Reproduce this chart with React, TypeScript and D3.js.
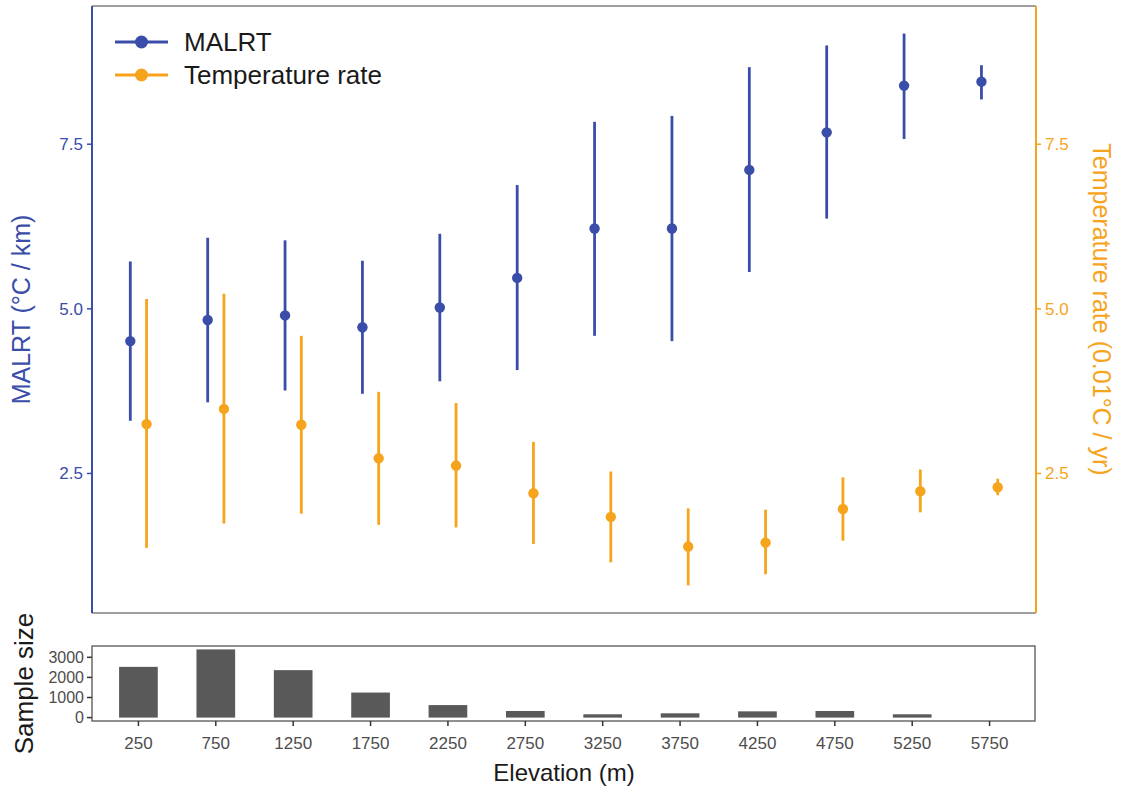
import React from "react";
import * as d3 from "d3";

const elevations = ["250", "750", "1250", "1750", "2250", "2750", "3250", "3750", "4250", "4750", "5250", "5750"];
const malrtMean = [4.51, 4.83, 4.9, 4.72, 5.02, 5.47, 6.22, 6.22, 7.11, 7.68, 8.39, 8.45];
const malrtLow = [3.3, 3.58, 3.76, 3.71, 3.9, 4.07, 4.59, 4.51, 5.56, 6.37, 7.58, 8.18];
const malrtHigh = [5.72, 6.08, 6.04, 5.73, 6.14, 6.88, 7.84, 7.93, 8.67, 9.0, 9.18, 8.7];
const rateMean = [3.25, 3.48, 3.24, 2.73, 2.62, 2.2, 1.84, 1.39, 1.45, 1.96, 2.23, 2.29];
const rateLow = [1.37, 1.74, 1.89, 1.72, 1.68, 1.43, 1.15, 0.8, 0.97, 1.48, 1.91, 2.17];
const rateHigh = [5.15, 5.23, 4.59, 3.74, 3.57, 2.98, 2.53, 1.97, 1.95, 2.44, 2.56, 2.42];
const sampleSize = [2525, 3393, 2361, 1246, 623, 328, 164, 213, 311, 328, 164, 0];
const yTicks = [2.5, 5.0, 7.5];
const nTicks = [0, 1000, 2000, 3000];

const BLUE = "#3A4DA8";
const ORANGE = "#F7A41D";
const FONT = "Liberation Sans, Arial, sans-serif";
const TICKCOL = "#4D4D4D";

export default function App() {
  const L = 92, R = 1036;
  const mT = 6, mB = 613;
  const bT = 646, bB = 721;

  const x = d3.scalePoint<string>().domain(elevations).range([L, R]).padding(0.6);
  const step = x.step();
  const dodge = step * 0.105;

  const allVals = [...malrtLow, ...malrtHigh, ...rateLow, ...rateHigh];
  const lo = d3.min(allVals)!, hi = d3.max(allVals)!;
  const ex = (hi - lo) * 0.05;
  const y = d3.scaleLinear().domain([lo - ex, hi + ex]).range([mB, mT]);

  const nMax = d3.max(sampleSize)!;
  const yn = d3.scaleLinear().domain([-nMax * 0.05, nMax * 1.05]).range([bB, bT]);

  const series = [
    { name: "MALRT", color: BLUE, mean: malrtMean, low: malrtLow, high: malrtHigh, off: -dodge },
    { name: "Temperature rate", color: ORANGE, mean: rateMean, low: rateLow, high: rateHigh, off: dodge },
  ];

  return (
    <svg width={1124} height={792} style={{ position: "absolute", left: 0, top: 0, background: "#fff" }} fontFamily={FONT}>
      <rect x={0} y={0} width={1124} height={792} fill="#fff" />
      {/* main panel border */}
      <line x1={L} x2={R} y1={mT} y2={mT} stroke="#7f7f7f" strokeWidth={1.5} />
      <line x1={L} x2={R} y1={mB} y2={mB} stroke="#7f7f7f" strokeWidth={1.5} />
      <line x1={L} x2={L} y1={mT} y2={mB} stroke={BLUE} strokeWidth={2} />
      <line x1={R} x2={R} y1={mT} y2={mB} stroke={ORANGE} strokeWidth={2} />
      {yTicks.map((t) => (
        <g key={"l" + t}>
          <line x1={L - 5} x2={L} y1={y(t)} y2={y(t)} stroke={BLUE} strokeWidth={1.5} />
          <text x={L - 9} y={y(t)} dy="0.35em" textAnchor="end" fontSize={17} fill={BLUE}>{t.toFixed(1)}</text>
          <line x1={R} x2={R + 5} y1={y(t)} y2={y(t)} stroke={ORANGE} strokeWidth={1.5} />
          <text x={R + 9} y={y(t)} dy="0.35em" textAnchor="start" fontSize={17} fill={ORANGE}>{t.toFixed(1)}</text>
        </g>
      ))}
      {series.map((s) => (
        <g key={s.name}>
          {elevations.map((e, i) => {
            const cx = x(e)! + s.off;
            return (
              <g key={e}>
                <line x1={cx} x2={cx} y1={y(s.low[i])} y2={y(s.high[i])} stroke={s.color} strokeWidth={2.8} />
                <circle cx={cx} cy={y(s.mean[i])} r={5.2} fill={s.color} />
              </g>
            );
          })}
        </g>
      ))}
      {/* legend */}
      {series.map((s, i) => (
        <g key={"lg" + s.name} transform={`translate(0, ${42 + i * 33})`}>
          <line x1={115} x2={168} y1={0} y2={0} stroke={s.color} strokeWidth={3} />
          <circle cx={141.5} cy={0} r={6.5} fill={s.color} />
          <text x={184} y={0} dy="0.36em" fontSize={26} fill="#1a1a1a">{s.name}</text>
        </g>
      ))}
      {/* axis titles */}
      <text transform={`translate(30, ${(mT + mB) / 2}) rotate(-90)`} textAnchor="middle" fontSize={25} fill={BLUE}>MALRT (°C / km)</text>
      <text transform={`translate(1093, ${(mT + mB) / 2}) rotate(90)`} textAnchor="middle" fontSize={25} fill={ORANGE}>Temperature rate (0.01°C / yr)</text>

      {/* bottom panel */}
      <rect x={L} y={bT} width={R - 1 - L} height={bB - bT} fill="none" stroke="#555" strokeWidth={1.3} />
      {elevations.map((e, i) => (
        sampleSize[i] > 0 ? (
          <rect key={"b" + e} x={x(e)! - step * 0.25} width={step * 0.5} y={yn(sampleSize[i])} height={yn(0) - yn(sampleSize[i])} fill="#595959" />
        ) : null
      ))}
      {nTicks.map((t) => (
        <g key={"n" + t}>
          <line x1={L - 5} x2={L} y1={yn(t)} y2={yn(t)} stroke="#333" strokeWidth={1.5} />
          <text x={L - 8} y={yn(t)} dy="0.35em" textAnchor="end" fontSize={16} fill={TICKCOL}>{t}</text>
        </g>
      ))}
      {elevations.map((e) => (
        <g key={"x" + e}>
          <line x1={x(e)} x2={x(e)} y1={bB} y2={bB + 5} stroke="#333" strokeWidth={1.5} />
          <text x={x(e)} y={bB + 22} dy="0.35em" textAnchor="middle" fontSize={17} fill={TICKCOL}>{e}</text>
        </g>
      ))}
      <text x={(L + R) / 2} y={781} textAnchor="middle" fontSize={24} fill="#1a1a1a">Elevation (m)</text>
      <text transform={`translate(33, ${(bT + bB) / 2}) rotate(-90)`} textAnchor="middle" fontSize={26} fill="#1a1a1a">Sample size</text>
    </svg>
  );
}
